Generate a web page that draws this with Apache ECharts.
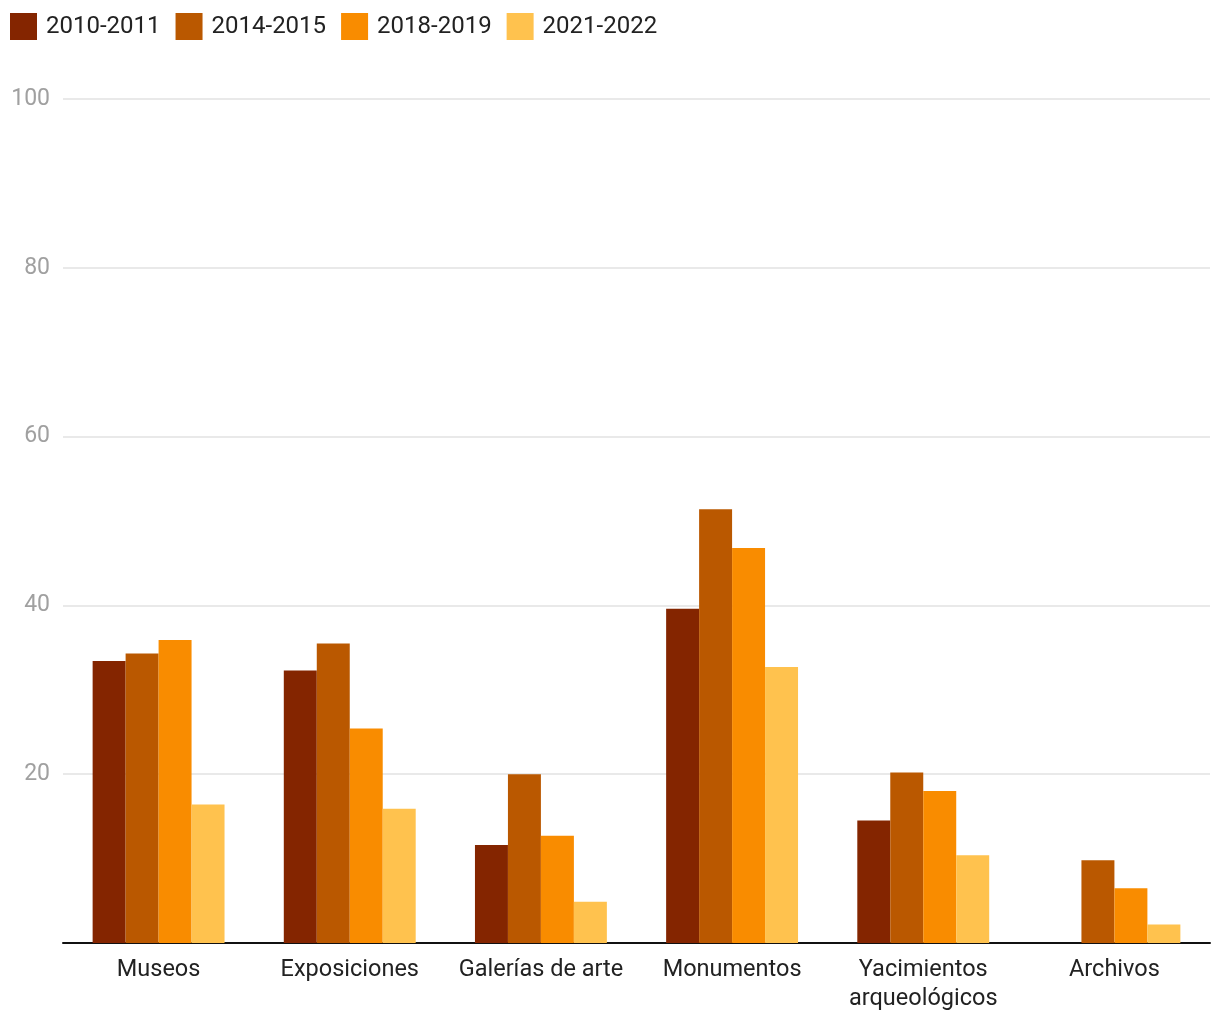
<!DOCTYPE html>
<html>
<head>
<meta charset="utf-8">
<script src="https://cdn.jsdelivr.net/npm/echarts@6/dist/echarts.min.js"></script>
<style>
html,body{margin:0;padding:0;background:#fff;}
#chart{width:1220px;height:1020px;}
</style>
</head>
<body>
<div id="chart"></div>
<script>
const categories = ['Museos', 'Exposiciones', 'Galerías de arte', 'Monumentos', 'Yacimientos\narqueológicos', 'Archivos'];
const seriesNames = ['2010-2011', '2014-2015', '2018-2019', '2021-2022'];
const s2010 = [33.4, 32.3, 11.6, 39.6, 14.5, null];
const s2014 = [34.3, 35.5, 20.0, 51.4, 20.2, 9.8];
const s2018 = [35.9, 25.4, 12.7, 46.8, 18.0, 6.5];
const s2021 = [16.4, 15.9, 4.9, 32.7, 10.4, 2.2];
const yTicks = [0, 20, 40, 60, 80, 100];
const colors = ['#842500', '#BA5800', '#F98C00', '#FFC24E'];

const chart = echarts.init(document.getElementById('chart'));
const font = 'Roboto, "Noto Sans", sans-serif';
const data = [s2010, s2014, s2018, s2021];
chart.setOption({
  animation: false,
  color: colors,
  legend: {
    left: 10, top: 13, padding: 0, itemWidth: 27, itemHeight: 27, itemGap: 15,
    icon: 'rect',
    textStyle: { fontSize: 24, color: '#222', fontFamily: font, padding: [0, 0, 0, 4] },
    data: seriesNames
  },
  grid: { left: 63, right: 10, top: 99, bottom: 77 },
  xAxis: {
    type: 'category',
    data: categories,
    axisLine: { lineStyle: { color: '#111', width: 2 } },
    axisTick: { show: false },
    axisLabel: { fontSize: 23.5, color: '#222', fontFamily: font, margin: 13, lineHeight: 29, interval: 0 }
  },
  yAxis: {
    type: 'value',
    min: yTicks[0], max: yTicks[yTicks.length - 1], interval: 20,
    axisLine: { show: false },
    axisTick: { show: false },
    splitLine: { lineStyle: { color: '#e2e2e2', width: 1.5 } },
    axisLabel: {
      fontSize: 23, color: '#a0a0a0', fontFamily: font, margin: 13,
      formatter: v => v === 0 ? '' : String(v)
    }
  },
  series: seriesNames.map((n, i) => ({
    name: n, type: 'bar', data: data[i],
    barGap: '0%', barCategoryGap: '31%',
    itemStyle: { color: colors[i] }
  }))
});
</script>
</body>
</html>
